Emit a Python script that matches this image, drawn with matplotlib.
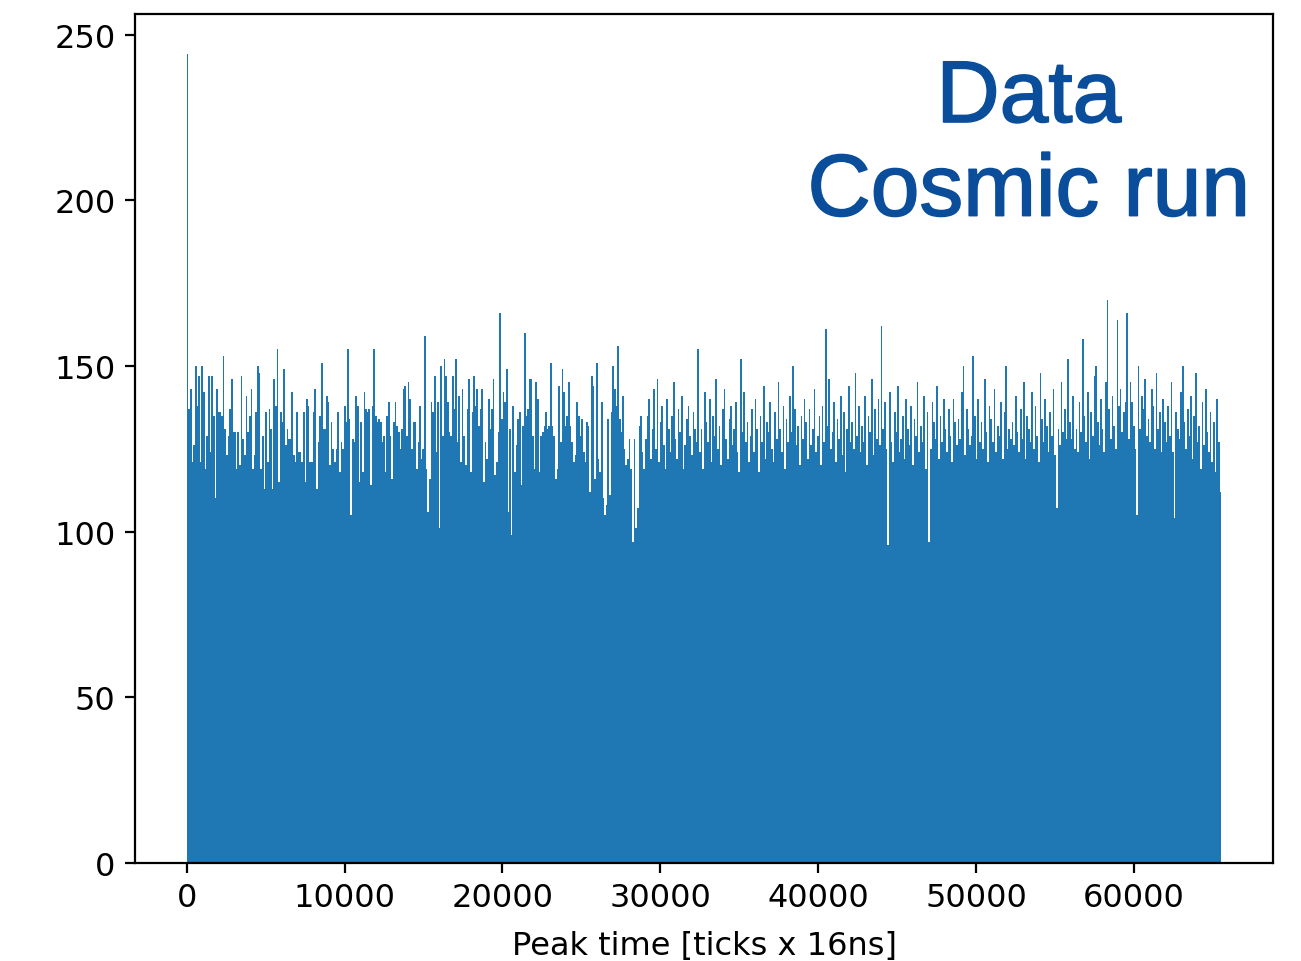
import numpy as np
import matplotlib
matplotlib.use('Agg')
import matplotlib.pyplot as plt
import matplotlib.patheffects as pe

# ---- peak-time histogram, cosmic run ----
# counts per bin (bins span 0 .. 65536 ticks)
counts_a = [
    244, 137, 143, 121, 126, 150, 138, 147, 121, 150, 142, 119, 129, 147, 124, 147, 135, 110, 143, 136,
    136, 135, 153, 131, 123, 129, 137, 146, 130, 130, 119, 130, 120, 147, 128, 123, 141, 130, 135, 143,
    119, 123, 136, 150, 148, 119, 129, 113, 136, 121, 137, 131, 113, 146, 138, 155, 115, 136, 133, 149,
    126, 131, 128, 128, 142, 123, 121, 136, 124,
]
counts_b = [
    124, 121, 136, 115, 140, 138, 121, 121, 136, 143, 113, 127, 135, 151, 131, 131, 141, 139, 120, 133,
    125, 121, 125, 136, 118, 127, 125, 138, 133, 155, 134, 105, 128, 127, 141, 138, 115, 133, 118, 142,
    137, 136, 137, 114, 138, 155, 135, 133, 134, 133, 127, 129, 118, 135, 139, 129, 116, 133, 139, 132,
    130, 125, 131, 143, 144, 129, 145, 140, 125, 133,
]
counts_c = [
    133, 119, 127, 138, 122, 125, 159, 119, 106, 116, 139, 136, 147, 124, 139, 101, 150, 129, 152, 147,
    139, 130, 129, 147, 137, 152, 127, 141, 121, 143, 129, 120, 137, 146, 118, 136, 147, 138, 143, 132,
    137, 143, 115, 127, 122, 140, 131, 137, 146, 117, 121, 130, 166, 134, 142, 139, 149, 106, 131, 99,
    138, 118, 126, 134, 136, 114, 132, 160, 135, 137, 146,
]
counts_d = [
    146, 129, 119, 145, 140, 118, 129, 130, 132, 136, 131, 132, 151, 132, 129, 116, 119, 144, 127, 149,
    142, 132, 135, 145, 132, 127, 121, 123, 139, 135, 129, 134, 124, 121, 133, 132, 112, 147, 144, 116,
    151, 122, 118, 139, 110, 105, 108, 134, 111, 136, 150, 143, 138, 156, 134, 130, 141, 125, 120, 122,
    128, 119, 97, 128, 101, 107, 132, 135, 124, 119,
]
counts_e = [
    128, 135, 140, 122, 131, 143, 125, 146, 121, 133, 138, 126, 119, 140, 131, 124,
    135, 145, 128, 122, 137, 130, 141, 119, 126, 134, 138, 129, 123, 136, 131, 127,
    155, 124, 131, 119, 142, 133, 127, 140, 121, 135, 129, 146, 125, 132, 120, 137,
    143, 128, 122, 134, 138, 126, 131, 139, 124, 118, 152, 130, 142, 127, 133, 121,
    129, 137, 124, 140, 131, 118, 135, 127, 144, 122, 133, 130, 139, 125, 121, 136,
    128, 145, 131, 124, 138, 119, 134, 127, 141, 130, 150, 137, 126, 132, 120, 135,
    128, 140, 133, 122, 137, 126, 131, 143, 124, 129, 135, 120, 138, 127, 161, 132,
    146, 125, 130, 139, 121, 134, 128, 141, 123, 136, 118, 131, 144, 127, 133, 125,
    148, 129, 138, 124, 132, 127, 141, 120, 135, 130, 146, 123, 137, 128, 140, 126,
    162, 131, 139, 125, 96, 142, 127, 121, 136, 130, 144, 124, 128, 135, 122, 140,
    131, 126, 138, 120, 134, 129, 145, 124, 132, 127, 141, 119, 136, 97, 125, 139,
    133, 128, 144, 122, 135, 127, 140, 131, 124, 137, 129, 121, 140, 133, 126, 134,
]
counts_f = [
    128, 142, 150, 123, 137, 131, 126, 129, 153, 135, 122, 140, 127, 133, 125, 146,
    130, 121, 138, 134, 127, 143, 124, 132, 129, 139, 122, 136, 150, 125, 131, 128,
    133, 126, 141, 130, 124, 137, 128, 145, 122, 135, 131, 127, 142, 125, 138, 129,
    121, 148, 134, 127, 140, 132, 124, 136, 129, 143, 123, 107, 131, 126, 145, 130,
    137, 128, 152, 133, 128, 141, 125, 131, 124, 139, 130, 158, 135, 127, 142, 122,
    136, 129, 147, 150, 133, 126, 140, 131, 124, 145, 170, 137, 128, 141, 132, 125,
    164, 138, 143, 130, 136, 139, 166, 128, 145, 139, 132, 125, 105, 150, 131, 141,
    137, 146, 129, 134, 127, 143, 138, 125, 148, 131, 136, 124, 140, 133, 127, 138,
    129, 145, 124, 104, 136, 131, 128, 142, 150, 133, 125, 137, 129, 141, 122, 135,
    148, 127, 132, 119, 139, 126, 143, 130, 124, 136, 121, 133, 118, 140, 127, 112,
]
counts = np.array(counts_a + counts_b + counts_c + counts_d + counts_e + counts_f, dtype=float)
t_max = 65536
edges = np.linspace(0, t_max, len(counts) + 1)

xlabel = 'Peak time [ticks x 16ns]'
label_text = 'Data\nCosmic run'
label_color = '#0a4d9a'

plt.rcParams['font.size'] = 11.5

fig = plt.figure(figsize=(6.505, 4.81), dpi=200)
ax = fig.add_axes([135 / 1301, 1 - 864 / 962, (1273 - 135) / 1301, (864 - 15) / 962])
ax.hist(edges[:-1], bins=edges, weights=counts, color='C0')
ax.set_xlabel(xlabel, labelpad=6)
ax.set_xticks([0, 10000, 20000, 30000, 40000, 50000, 60000])

fig.text(1029 / 1301, 1 - 60 / 962, label_text, ha='center', va='top', multialignment='center',
         color=label_color, fontsize=31.5, family=['Liberation Sans', 'DejaVu Sans'], linespacing=1.2,
         path_effects=[pe.withStroke(linewidth=0.6, foreground=label_color)])

plt.savefig('out.png', dpi=200)
